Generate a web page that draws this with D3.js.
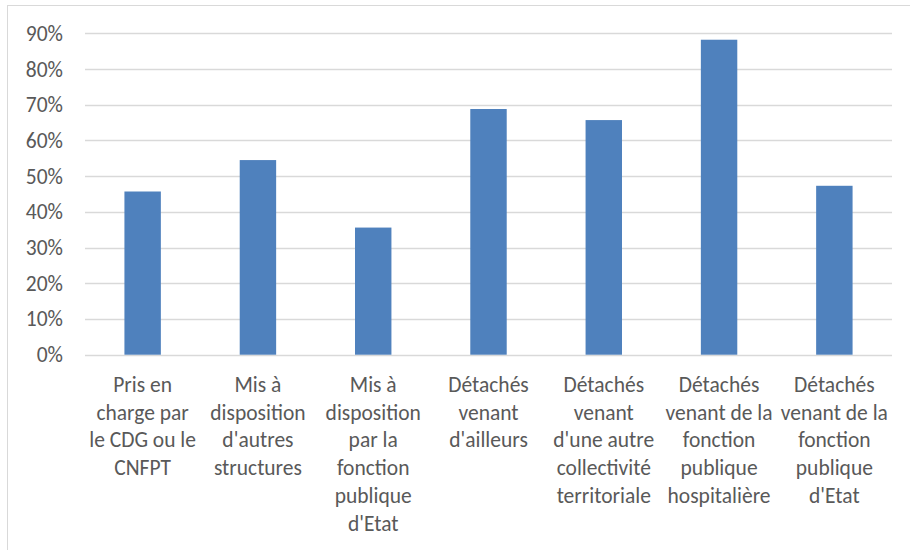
<!DOCTYPE html>
<html>
<head>
<meta charset="utf-8">
<script src="https://cdn.jsdelivr.net/npm/d3@7"></script>
<style>
  body { margin: 0; background: #fff; }
  svg text { font-family: Carlito, Calibri, Lato, sans-serif; fill: #595959; }
</style>
</head>
<body>
<div id="chart"></div>
<script>
var width = 910,
  height = 550;

// categories, each one already split into the lines shown under the axis
var categories = [
  ["Pris en", "charge par", "le CDG ou le", "CNFPT"],
  ["Mis à", "disposition", "d'autres", "structures"],
  ["Mis à", "disposition", "par la", "fonction", "publique", "d'Etat"],
  ["Détachés", "venant", "d'ailleurs"],
  ["Détachés", "venant", "d'une autre", "collectivité", "territoriale"],
  ["Détachés", "venant de la", "fonction", "publique", "hospitalière"],
  ["Détachés", "venant de la", "fonction", "publique", "d'Etat"]
];
var values = [0.457, 0.545, 0.356, 0.688, 0.657, 0.882, 0.473];
var yTicks = [0, 0.1, 0.2, 0.3, 0.4, 0.5, 0.6, 0.7, 0.8, 0.9];

var plotLeft = 85, plotRight = 892, plotTop = 33.3, plotBottom = 354.7;

var svg = d3.select("#chart").append("svg")
  .attr("width", width)
  .attr("height", height);

// chart frame (runs off the right and bottom of the picture)
svg.append("rect")
  .attr("x", 7.5)
  .attr("y", 5.5)
  .attr("width", 960)
  .attr("height", 600)
  .attr("fill", "#fff")
  .attr("stroke", "#d9d9d9")
  .attr("stroke-width", 1);

var x = d3.scaleBand()
  .domain(d3.range(categories.length))
  .range([plotLeft, plotRight])
  .paddingInner(0.684)
  .paddingOuter(0.342);

var y = d3.scaleLinear()
  .domain([0, 0.9])
  .range([plotBottom, plotTop]);

// gridlines
svg.append("g")
  .selectAll("line")
  .data(yTicks)
  .enter().append("line")
  .attr("x1", plotLeft)
  .attr("x2", plotRight)
  .attr("y1", function(d) { return Math.round(y(d)) + 0.5; })
  .attr("y2", function(d) { return Math.round(y(d)) + 0.5; })
  .attr("stroke", "#d9d9d9")
  .attr("stroke-width", 1.3);

// y tick labels
svg.append("g")
  .selectAll("text")
  .data(yTicks)
  .enter().append("text")
  .attr("x", 63)
  .attr("y", function(d) { return y(d) + 7.5; })
  .attr("text-anchor", "end")
  .style("font-size", "21.5px")
  .text(d3.format(".0%"));

// bars
svg.append("g")
  .selectAll("rect")
  .data(values)
  .enter().append("rect")
  .attr("x", function(d, i) { return x(i); })
  .attr("width", x.bandwidth())
  .attr("y", function(d) { return y(d); })
  .attr("height", function(d) { return y(0) - y(d); })
  .attr("fill", "#4f81bd");

// category labels
var label = svg.append("g")
  .selectAll("text")
  .data(categories)
  .enter().append("text")
  .attr("text-anchor", "middle")
  .style("font-size", "21.5px");

label.selectAll("tspan")
  .data(function(d, i) { return d.map(function(t) { return {t: t, i: i}; }); })
  .enter().append("tspan")
  .attr("x", function(d) { return x(d.i) + x.bandwidth() / 2; })
  .attr("y", function(d, j) { return 392 + j * 27.7; })
  .text(function(d) { return d.t; });
</script>
</body>
</html>
